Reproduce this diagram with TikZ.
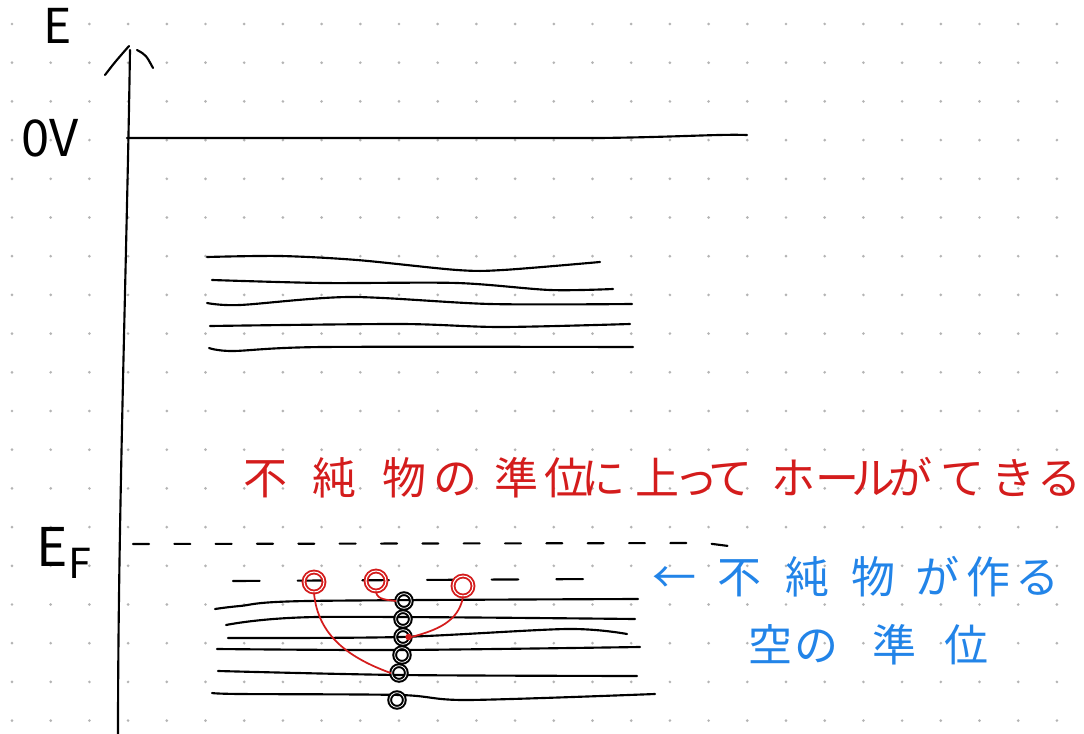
\documentclass[tikz,border=0pt]{standalone}
\usepackage{fontspec}
\newfontfamily\cjk{Noto Sans CJK JP}
\definecolor{hred}{RGB}{212,28,28}
\definecolor{hblue}{RGB}{34,132,232}
\definecolor{gridgray}{RGB}{180,180,180}
\newcommand\gp[1]{\hspace{#1pt}}
\begin{document}
\begin{tikzpicture}[x=0.75pt,y=-0.75pt,
  ink/.style={line width=1.6pt, line cap=round, line join=round},
  electron/.style={circle, draw=black, line width=1.5pt, double=white, double distance=0.6pt, minimum size=11pt, inner sep=0pt},
  hole/.style={circle, draw=hred, line width=1.4pt, double=white, double distance=0.8pt, minimum size=15pt, inner sep=0pt},
  jump/.style={draw=hred, line width=1.3pt, line cap=round},
  hand/.style={inner sep=0pt, font=\cjk\fontsize{33}{36}\selectfont},
]
\useasboundingbox (0,0) rectangle (1084,734);
\fill[white] (0,0) rectangle (1084,734);
% dot grid
\foreach \i in {0,...,27} {
  \foreach \j in {0,...,18} {
    \fill[gridgray] ({12+38.7*\i},{24+38.7*\j}) circle (1.1pt);
  }
}
% energy axis
\draw[ink] (118,734) .. controls (118,520) and (127,250) .. (130,50);
\draw[ink] (105,75) .. controls (115,62) .. (129,46);
\draw[ink] (137,50) .. controls (146,55) .. (153,68);
\node[inner sep=0pt, font=\cjk\fontsize{36}{40}\selectfont] (E) at (58,26) {E};
% 0V level
\node[inner sep=0pt, font=\cjk\fontsize{38}{42}\selectfont] (zero) at (50,138) {0V};
\draw[ink] (127,138) -- (600,138) .. controls (680,137) and (720,134) .. (747,135);
% upper band
\draw[ink] plot[smooth] coordinates {(207,257) (280,256) (357,260) (457,270) (503,270) (600,262)};
\draw[ink] plot[smooth] coordinates {(212,280) (323,283) (457,283) (550,290) (613,289)};
\draw[ink] plot[smooth] coordinates {(207,303) (240,305) (350,297) (490,304) (632,304)};
\draw[ink] plot[smooth] coordinates {(210,326) (400,324) (500,327) (630,324)};
\draw[ink] plot[smooth] coordinates {(209,348) (233,351) (323,347) (633,347)};
% Fermi level
\node[inner sep=0pt, font=\cjk\fontsize{40}{44}\selectfont] (EF) at (64,553) {E\kern1pt\raisebox{-9pt}{\fontsize{31}{31}\selectfont F}};
\draw[ink, dash pattern=on 12pt off 19pt] (133,544) -- (705,543) -- (752,549);
% impurity level
\draw[ink, dash pattern=on 20pt off 28.5pt] (233,581) -- (595,579);
% lower band
\draw[ink] plot[smooth] coordinates {(215,609) (240,606) (307,601) (638,599)};
\draw[ink] plot[smooth] coordinates {(226,625) (317,617) (635,619)};
\draw[ink] plot[smooth] coordinates {(228,638) (400,637) (567,629) (627,634)};
\draw[ink] plot[smooth] coordinates {(217,649) (400,650) (640,647)};
\draw[ink] plot[smooth] coordinates {(218,671) (400,675) (637,676)};
\draw[ink] plot[smooth] coordinates {(212,693) (240,694) (400,695) (467,700) (655,694)};
% electrons
\node[electron] (e1) at (404,601) {};
\node[electron] (e2) at (403,619) {};
\node[electron] (e3) at (403,637) {};
\node[electron] (e4) at (402,655) {};
\node[electron] (e5) at (399,673) {};
\node[electron] (e6) at (397,700) {};
% holes on the impurity level
\node[hole] (h1) at (314,582) {};
\node[hole] (h2) at (376,581) {};
\node[hole] (h3) at (463,586) {};
% excitations
\draw[jump] (h1.south) to[out=-85,in=160] (e5.west);
\draw[jump] (h2.south) to[out=-80,in=170] (e1.west);
\draw[jump] (h3.south) to[out=-100,in=15] (e3.east);
\fill[hred] (e3.east) ++(-2pt,0) circle (2.5pt);
% annotations
\node[hand, text=hred, anchor=west] (note) at (243,478)
  {不\gp{19}純\gp{19.5}物\gp{5}の\gp{13}準\gp{4.5}位\gp{-5}に\gp{7.5}上\gp{-4}っ\gp{-7.5}て\gp{14}ホ\gp{0}ー\gp{-6}ル\gp{-5}が\gp{6}て\gp{5}き\gp{1.5}る};
\node[hand, text=hblue, anchor=west] (lvl1) at (652,577)
  {←\gp{16}不\gp{18}純\gp{16.5}物\gp{15}が\gp{5}作\gp{4}る};
\node[hand, text=hblue, anchor=west] (lvl2) at (748,645)
  {空\gp{2}の\gp{25.5}準\gp{21}位};
\end{tikzpicture}
\end{document}
